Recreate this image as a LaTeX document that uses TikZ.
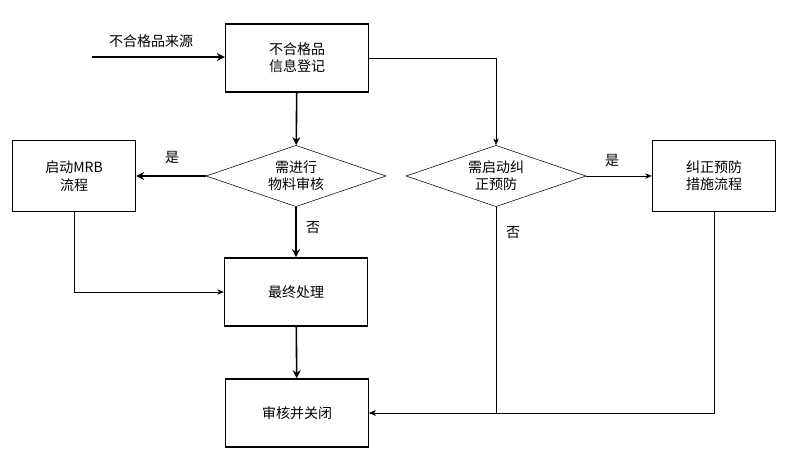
\documentclass[tikz,border=0pt]{standalone}
\usepackage{fontspec}
\setmainfont{Noto Sans CJK SC}
\usetikzlibrary{shapes.geometric,arrows.meta}
\begin{document}
\begin{tikzpicture}[x=0.75pt,y=0.75pt,yscale=-1,xscale=1,
  font=\fontsize{10.5}{13}\selectfont,
  box/.style={draw,line width=1.2pt,minimum width=107pt,minimum height=51pt,align=center,inner sep=0.75pt},
  sbox/.style={draw,line width=1.2pt,minimum width=92pt,minimum height=53pt,align=center,inner sep=0.75pt},
  dec/.style={draw,diamond,aspect=2.9,minimum width=135pt,minimum height=46pt,inner sep=0pt,align=center},
  thick arr/.style={line width=1.2pt,-{Stealth[length=6pt,width=6pt]}},
  thin arr/.style={line width=0.4pt,-{Stealth[length=5pt,width=4pt]}}]
\useasboundingbox (0,0) rectangle (793,463);

% Boxes
\node [box] (reg) at (297,58) {不合格品\\信息登记};
\node [dec] (mat) at (296,176) {需进行\\物料审核};
\node [sbox] (mrb) at (74,176) {启动MRB\\流程};
\node [box] (fin) at (296,292) {最终处理};
\node [box] (clo) at (297,413) {审核并关闭};
\node [dec] (cap) at (496,176) {需启动纠\\正预防};
\node [sbox] (cpa) at (714,176) {纠正预防\\措施流程};

% Text Node
\node [inner sep=0.75pt] (src) at (151,41) {不合格品来源};
\node (yes1) at (172,157) {是};
\node (no1) at (313,228) {否};
\node (yes2) at (612,160) {是};
\node (no2) at (513,233) {否};
\coordinate (in) at (92,57);

% Connectors
\draw [thick arr] (in) -- (in -| reg.west);
\draw [thick arr] (reg) -- (mat);
\draw [thick arr] (mat) -- (mrb);
\draw [thick arr] (mat) -- (fin);
\draw [thick arr] (fin) -- (clo);
\draw [thin arr] (reg.east) -| (cap.north);
\draw [thin arr] (cap) -- (cpa);
\draw [thin arr] (mrb.south) |- (fin.west);
\draw [thin arr] (cap.south) |- (clo.east);
\draw [thin arr] (cpa.south) |- (clo.east);

\end{tikzpicture}
\end{document}
